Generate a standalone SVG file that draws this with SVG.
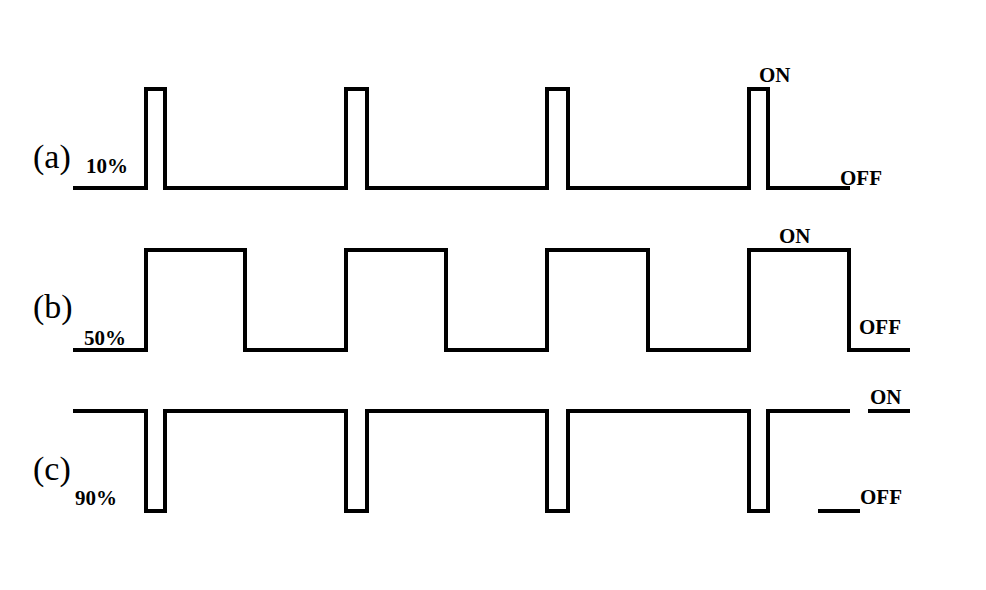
<svg xmlns="http://www.w3.org/2000/svg" width="986" height="590" viewBox="0 0 986 590">
<style>
.w{fill:none;stroke:#000;stroke-width:4;stroke-linejoin:miter}
.t{font-family:"Liberation Serif",serif;font-weight:bold;font-size:21px;fill:#000}
.l{font-family:"Liberation Serif",serif;font-size:34px;fill:#000}
</style>
<rect width="986" height="590" fill="#fff"/>
<g id="connectors">
<path class="w" d="M73 188H146V89H165V188H346V89H367V188H547V89H568V188H749V89H768V188H850"/>
<path class="w" d="M73 350H146V250H245V350H346V250H446V350H547V250H648V350H749V250H849V350H910"/>
<path class="w" d="M73 411H146V511H165V411H346V511H367V411H547V511H568V411H749V511H768V411H850"/>
<path class="w" d="M868 411H910M818 511H860"/>
</g>
<g id="labels">
<text class="l" x="33" y="168">(a)</text>
<text class="t" x="86" y="173">10%</text>
<text class="l" x="33" y="318">(b)</text>
<text class="t" x="84" y="345">50%</text>
<text class="l" x="33" y="480">(c)</text>
<text class="t" x="75" y="505">90%</text>
<text class="t" x="759" y="82">ON</text>
<text class="t" x="840" y="185">OFF</text>
<text class="t" x="779" y="243">ON</text>
<text class="t" x="859" y="334">OFF</text>
<text class="t" x="870" y="404">ON</text>
<text class="t" x="860" y="504">OFF</text>
</g>
</svg>
